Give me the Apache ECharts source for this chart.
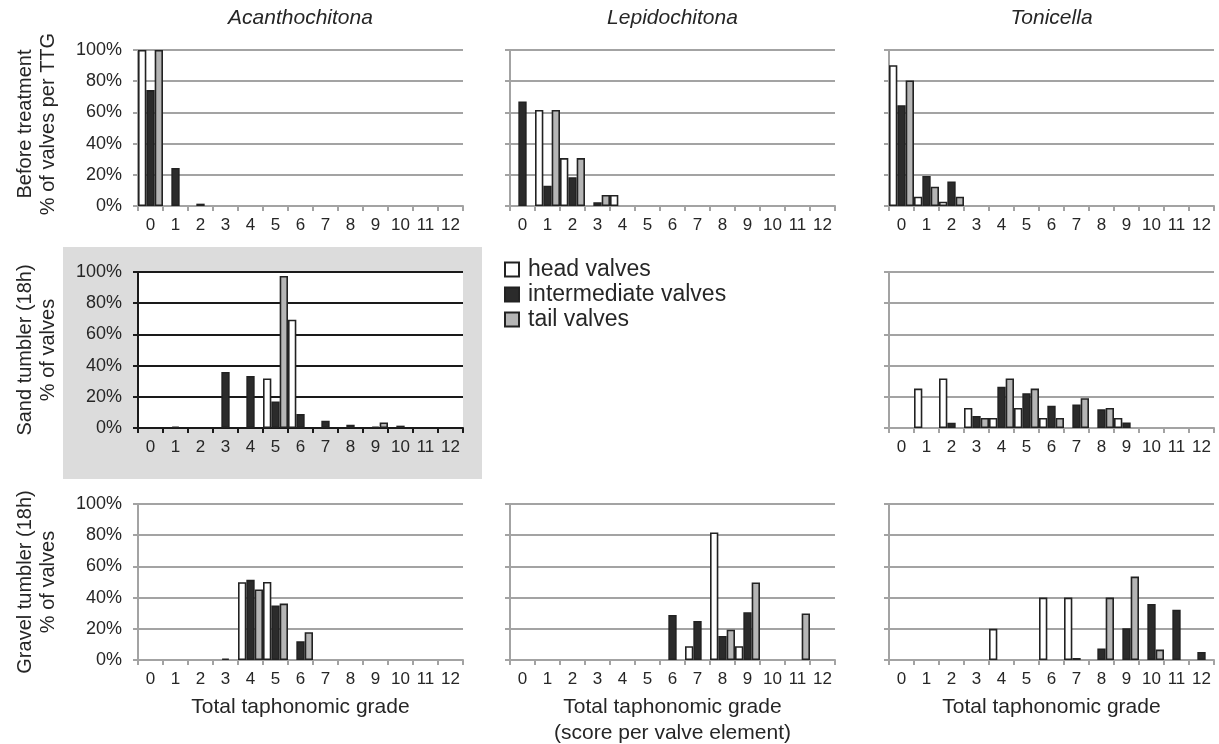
<!DOCTYPE html>
<html>
<head>
<meta charset="utf-8">
<script src="https://cdn.jsdelivr.net/npm/echarts@6/dist/echarts.min.js"></script>
<style>
html,body{margin:0;padding:0;background:#fff;}
#chart{width:1219px;height:744px;}
</style>
</head>
<body>
<div id="chart"></div>
<script>
// ---------- DATA ----------
const categories = ['0','1','2','3','4','5','6','7','8','9','10','11','12'];
const yTicks = [0, 20, 40, 60, 80, 100];
const seriesNames = ['head valves', 'intermediate valves', 'tail valves'];
const genera = ['Acanthochitona', 'Lepidochitona', 'Tonicella'];
const rowTitles = [['Before treatment', '% of valves per TTG'], ['Sand tumbler (18h)', '% of valves'], ['Gravel tumbler (18h)', '% of valves']];
const xTitle = 'Total taphonomic grade';
const xSubTitle = '(score per valve element)';

// Before treatment
const acanthBeforeHead  = [100, 0, 0, 0, 0, 0, 0, 0, 0, 0, 0, 0, 0];
const acanthBeforeInter = [74.3, 24.4, 1.5, 0, 0, 0, 0, 0, 0, 0, 0, 0, 0];
const acanthBeforeTail  = [100, 0, 0, 0, 0, 0, 0, 0, 0, 0, 0, 0, 0];
const lepidoBeforeHead  = [0, 61.6, 30.7, 0, 7.1, 0, 0, 0, 0, 0, 0, 0, 0];
const lepidoBeforeInter = [67, 13, 18.4, 2.4, 0, 0, 0, 0, 0, 0, 0, 0, 0];
const lepidoBeforeTail  = [0, 61.6, 30.7, 7.1, 0, 0, 0, 0, 0, 0, 0, 0, 0];
const tonicBeforeHead   = [90.3, 6, 2.8, 0, 0, 0, 0, 0, 0, 0, 0, 0, 0];
const tonicBeforeInter  = [64.6, 19.3, 15.7, 0, 0, 0, 0, 0, 0, 0, 0, 0, 0];
const tonicBeforeTail   = [80.5, 12.4, 6, 0, 0, 0, 0, 0, 0, 0, 0, 0, 0];
// Sand tumbler (18h)
const acanthSandHead    = [0, 0, 0, 0, 0, 31.8, 69.4, 0, 0, 0, 0, 0, 0];
const acanthSandInter   = [0, 1, 0, 35.9, 33.3, 17, 8.9, 4.7, 2.1, 1, 1.5, 0, 0];
const acanthSandTail    = [0, 0, 0, 0, 0, 97.5, 0, 0, 0, 3.6, 0, 0, 0];
const tonicSandHead     = [0, 25.3, 31.8, 12.9, 6.4, 12.9, 6.4, 0, 0, 6.4, 0, 0, 0];
const tonicSandInter    = [0, 0, 3.4, 7.7, 26.4, 22.3, 14.2, 15, 12, 3.6, 0, 0, 0];
const tonicSandTail     = [0, 0, 0, 6.4, 31.8, 25.3, 6.4, 19.1, 12.9, 0, 0, 0, 0];
// Gravel tumbler (18h)
const acanthGravelHead  = [0, 0, 0, 0, 49.9, 50, 0, 0, 0, 0, 0, 0, 0];
const acanthGravelInter = [0, 0, 0, 1, 51.4, 34.9, 12, 0, 0, 0, 0, 0, 0];
const acanthGravelTail  = [0, 0, 0, 0, 45.2, 36.2, 17.8, 0, 0, 0, 0, 0, 0];
const lepidoGravelHead  = [0, 0, 0, 0, 0, 0, 0, 8.8, 81.8, 8.8, 0, 0, 0];
const lepidoGravelInter = [0, 0, 0, 0, 0, 0, 28.9, 25, 15.4, 30.6, 0, 0, 0];
const lepidoGravelTail  = [0, 0, 0, 0, 0, 0, 0, 0, 19.4, 49.7, 0, 29.8, 0];
const tonicGravelHead   = [0, 0, 0, 0, 20, 0, 40, 40, 0, 0, 0, 0, 0];
const tonicGravelInter  = [0, 0, 0, 0, 0, 0, 0, 1.3, 7.4, 20.4, 35.9, 32.2, 5.2];
const tonicGravelTail   = [0, 0, 0, 0, 0, 0, 0, 0, 40, 53.5, 6.7, 0, 0];

// ---------- LAYOUT ----------
const FONT = "'Liberation Sans', Arial, Helvetica, sans-serif";
const TXT = '#262626';
const colLeft = [138, 510, 889];
const rowTop = [50, 272, 504];
const PW = 325, PH = 156;
const fills = ['#ffffff', '#2b2b2b', '#b5b5b5'];

const panels = [
  {c:0, r:0, d:[acanthBeforeHead, acanthBeforeInter, acanthBeforeTail]},
  {c:1, r:0, d:[lepidoBeforeHead, lepidoBeforeInter, lepidoBeforeTail]},
  {c:2, r:0, d:[tonicBeforeHead, tonicBeforeInter, tonicBeforeTail]},
  {c:0, r:1, d:[acanthSandHead, acanthSandInter, acanthSandTail], dark:true},
  {c:2, r:1, d:[tonicSandHead, tonicSandInter, tonicSandTail]},
  {c:0, r:2, d:[acanthGravelHead, acanthGravelInter, acanthGravelTail]},
  {c:1, r:2, d:[lepidoGravelHead, lepidoGravelInter, lepidoGravelTail]},
  {c:2, r:2, d:[tonicGravelHead, tonicGravelInter, tonicGravelTail]}
];

const grid = [], xAxis = [], yAxis = [], series = [];
panels.forEach((p, i) => {
  const lineCol = p.dark ? '#1a1a1a' : '#a3a3a3';
  grid.push({left: colLeft[p.c], top: rowTop[p.r], width: PW, height: PH,
    show: true, backgroundColor: '#ffffff', borderWidth: 0, containLabel: false});
  xAxis.push({type: 'category', gridIndex: i, data: categories,
    axisLine: {show: true, lineStyle: {color: lineCol, width: 2}},
    axisTick: {show: true, length: 5, lineStyle: {color: lineCol, width: 2}},
    axisLabel: {show: true, interval: 0, margin: 11, fontSize: 17, color: TXT, fontFamily: FONT},
    splitLine: {show: false}});
  yAxis.push({type: 'value', gridIndex: i, min: 0, max: 100, interval: 20,
    axisLine: {show: true, lineStyle: {color: lineCol, width: 2}},
    axisTick: {show: true, length: 5, lineStyle: {color: lineCol, width: 2}},
    axisLabel: {show: p.c === 0, margin: 16, fontSize: 18, color: TXT, fontFamily: FONT,
      formatter: v => v + '%'},
    splitLine: {show: true, lineStyle: {color: lineCol, width: 2}}});
  p.d.forEach((arr, k) => {
    series.push({type: 'bar', name: seriesNames[k], xAxisIndex: i, yAxisIndex: i,
      data: arr.map(v => v === 0 ? '-' : v),
      barGap: '0%', barCategoryGap: '0%', silent: true, animation: false,
      itemStyle: {color: fills[k], borderColor: '#222222', borderWidth: 1.6}});
  });
});

const graphic = [
  {type: 'rect', z: -10, shape: {x: 63, y: 247, width: 419, height: 232}, style: {fill: '#dcdcdc'}}
];
const colCenter = colLeft.map(l => l + PW / 2);
genera.forEach((g, i) => {
  graphic.push({type: 'text', x: colCenter[i], y: 18, style: {text: g, fontSize: 21, fontStyle: 'italic',
    fontFamily: FONT, fill: TXT, align: 'center', verticalAlign: 'middle'}});
});
rowTitles.forEach((t, r) => {
  const cy = rowTop[r] + PH / 2 - (r === 0 ? 4 : 0);
  [25, 48].forEach((x, j) => {
    graphic.push({type: 'text', x: x, y: cy, rotation: Math.PI / 2,
      style: {text: t[j], fontSize: 20, fontFamily: FONT, fill: TXT, align: 'center', verticalAlign: 'middle'}});
  });
});
[0, 1, 2].forEach(c => {
  graphic.push({type: 'text', x: colCenter[c], y: 707, style: {text: xTitle, fontSize: 21,
    fontFamily: FONT, fill: TXT, align: 'center', verticalAlign: 'middle'}});
});
graphic.push({type: 'text', x: colCenter[1], y: 733, style: {text: xSubTitle, fontSize: 21,
  fontFamily: FONT, fill: TXT, align: 'center', verticalAlign: 'middle'}});

const chart = echarts.init(document.getElementById('chart'), null, {renderer: 'canvas'});
chart.setOption({
  backgroundColor: '#ffffff',
  animation: false,
  textStyle: {fontFamily: FONT, color: TXT},
  legend: {show: true, orient: 'vertical', left: 504, top: 258, icon: 'rect',
    itemWidth: 14, itemHeight: 14, itemGap: 2, padding: 0,
    data: seriesNames, selectedMode: false,
    textStyle: {fontSize: 23, color: TXT, fontFamily: FONT, padding: [0, 0, 0, 4]}},
  grid: grid, xAxis: xAxis, yAxis: yAxis, series: series, graphic: graphic
});
</script>
</body>
</html>
